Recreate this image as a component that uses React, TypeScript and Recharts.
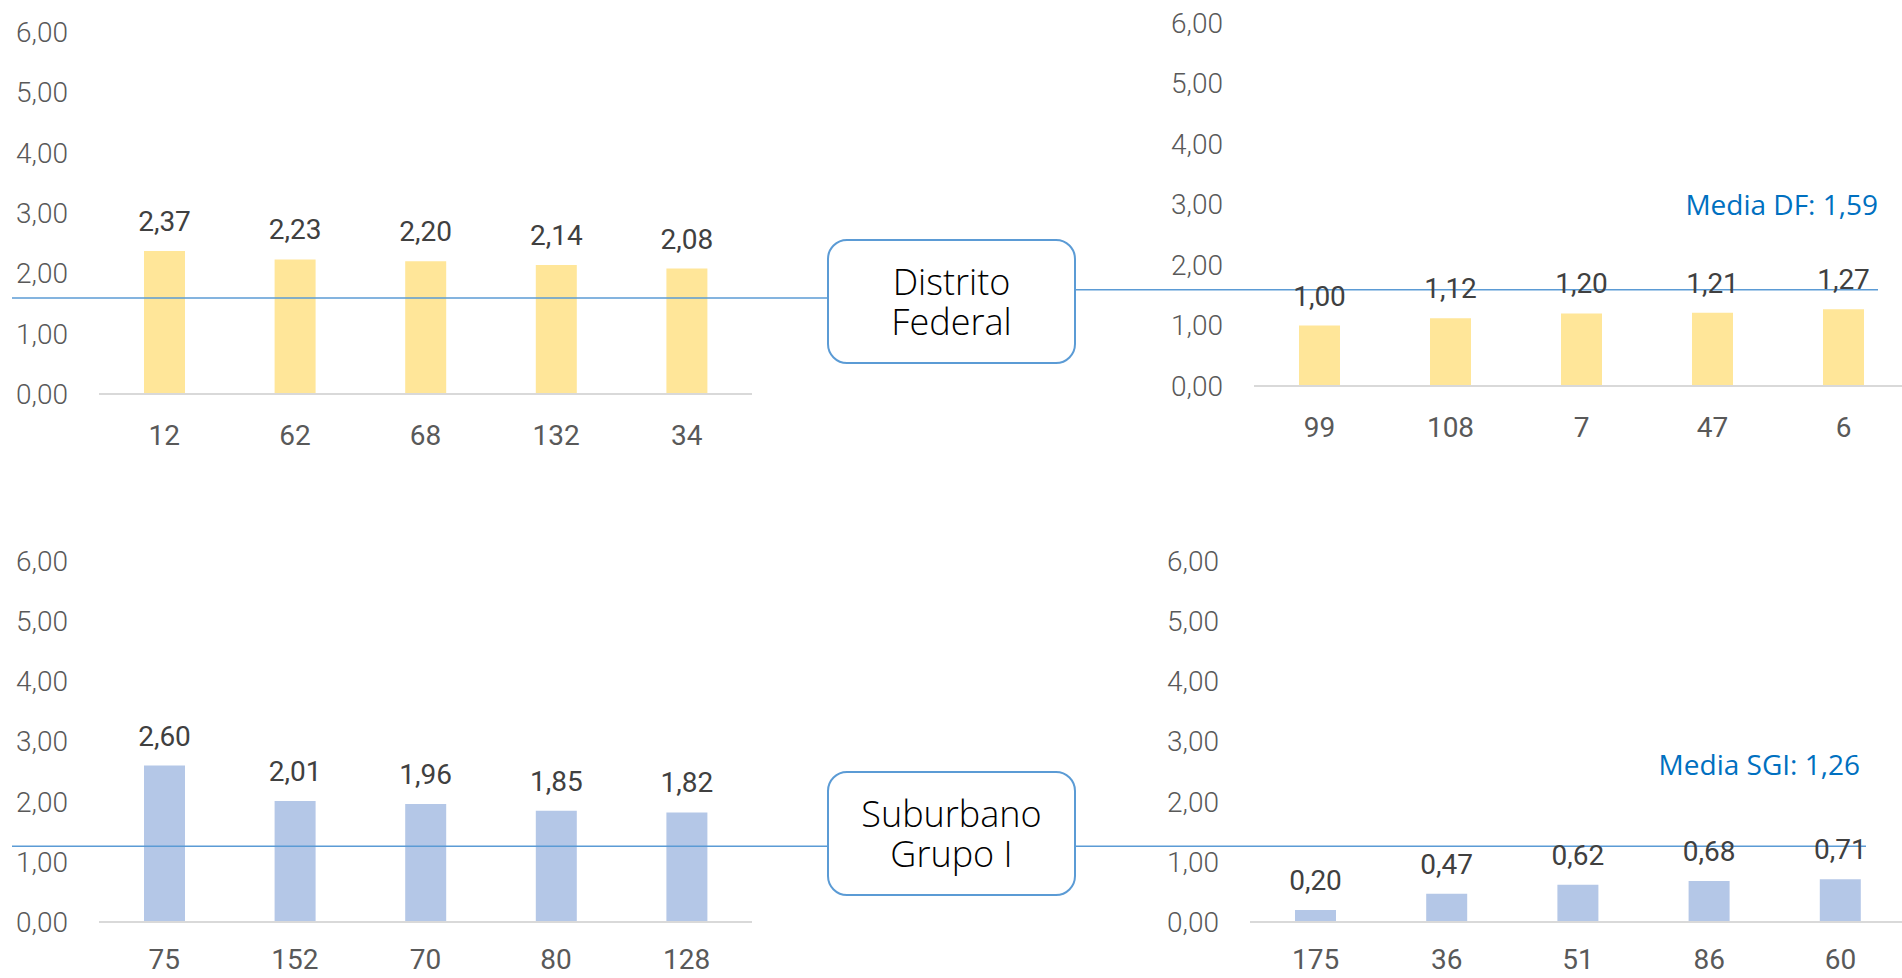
import { BarChart, Bar, XAxis, YAxis, ReferenceLine, LabelList } from "recharts";

const DF_HIGH_CATS = ["12", "62", "68", "132", "34"];
const DF_HIGH_VALUES = [2.37, 2.23, 2.2, 2.14, 2.08];
const DF_LOW_CATS = ["99", "108", "7", "47", "6"];
const DF_LOW_VALUES = [1.0, 1.12, 1.2, 1.21, 1.27];
const SGI_HIGH_CATS = ["75", "152", "70", "80", "128"];
const SGI_HIGH_VALUES = [2.6, 2.01, 1.96, 1.85, 1.82];
const SGI_LOW_CATS = ["175", "36", "51", "86", "60"];
const SGI_LOW_VALUES = [0.2, 0.47, 0.62, 0.68, 0.71];
const Y_TICKS = [0, 1, 2, 3, 4, 5, 6];
const MEDIA_DF = 1.59;
const MEDIA_SGI = 1.26;

const YELLOW = "#FFE699";
const BLUE = "#B4C7E7";
const LINE = "#5B9BD5";

const fmt = (v: number) => v.toFixed(2).replace(".", ",");

type PanelProps = {
  left: number;
  top: number;
  width: number;
  height: number;
  marginTop: number;
  marginRight: number;
  yAxisWidth: number;
  xAxisHeight: number;
  xTickMargin: number;
  cats: string[];
  values: number[];
  color: string;
  mean: number;
  extendLeft: number;
  extendRight: number;
};

function Panel(p: PanelProps) {
  const data = p.cats.map((c, i) => ({ cat: c, value: p.values[i] }));
  return (
    <div style={{ position: "absolute", left: p.left, top: p.top }}>
      <BarChart
        width={p.width}
        height={p.height}
        data={data}
        margin={{ top: p.marginTop, right: p.marginRight, bottom: 0, left: 0 }}
      >
        <XAxis
          dataKey="cat"
          height={p.xAxisHeight}
          axisLine={{ stroke: "#D9D9D9", strokeWidth: 2 }}
          tickLine={false}
          tickSize={0}
          tickMargin={p.xTickMargin}
          interval={0}
          tick={{ fill: "#595959", fontSize: 28, fontFamily: "Roboto" }}
        />
        <YAxis
          domain={[0, 6]}
          ticks={Y_TICKS}
          width={p.yAxisWidth}
          axisLine={false}
          tickLine={false}
          tickSize={0}
          tickMargin={31}
          tickFormatter={fmt}
          tick={{ fill: "#595959", fontSize: 28, fontFamily: "Roboto", fontWeight: 300 }}
        />
        <Bar dataKey="value" fill={p.color} barSize={41} isAnimationActive={false}>
          <LabelList
            dataKey="value"
            position="top"
            offset={20}
            formatter={(v: number) => fmt(v)}
            style={{ fill: "#404040", fontSize: 28, fontFamily: "Roboto" }}
          />
        </Bar>
        <ReferenceLine
          y={p.mean}
          shape={(s: any) => (
            <line
              x1={s.x1 - p.extendLeft}
              y1={s.y1}
              x2={s.x2 + p.extendRight}
              y2={s.y2}
              stroke={LINE}
              strokeWidth={1.5}
            />
          )}
        />
      </BarChart>
    </div>
  );
}

const boxStyle: React.CSSProperties = {
  position: "absolute",
  left: 827,
  width: 249,
  height: 125,
  boxSizing: "border-box",
  border: `2.5px solid ${LINE}`,
  borderRadius: 20,
  background: "#fff",
  display: "flex",
  alignItems: "center",
  justifyContent: "center",
  textAlign: "center",
  fontFamily: "'Open Sans', 'Noto Sans', sans-serif",
  fontWeight: 300,
  fontSize: 36,
  lineHeight: "40px",
  color: "#000",
};

const meanLabelStyle: React.CSSProperties = {
  position: "absolute",
  fontFamily: "'Open Sans', sans-serif",
  fontSize: 28,
  lineHeight: "28px",
  color: "#0070C0",
  whiteSpace: "nowrap",
};

export default function App() {
  return (
    <div
      style={{
        position: "fixed",
        left: 0,
        top: 0,
        width: 1902,
        height: 978,
        overflow: "hidden",
        background: "#fff",
      }}
    >
      <Panel
        left={0}
        top={0}
        width={830}
        height={470}
        marginTop={32}
        marginRight={78}
        yAxisWidth={99}
        xAxisHeight={76}
        xTickMargin={31}
        cats={DF_HIGH_CATS}
        values={DF_HIGH_VALUES}
        color={YELLOW}
        mean={MEDIA_DF}
        extendLeft={87}
        extendRight={76}
      />
      <Panel
        left={1076}
        top={0}
        width={840}
        height={470}
        marginTop={23}
        marginRight={7}
        yAxisWidth={178}
        xAxisHeight={84}
        xTickMargin={31}
        cats={DF_LOW_CATS}
        values={DF_LOW_VALUES}
        color={YELLOW}
        mean={MEDIA_DF}
        extendLeft={178}
        extendRight={-31}
      />
      <Panel
        left={0}
        top={500}
        width={830}
        height={478}
        marginTop={61}
        marginRight={78}
        yAxisWidth={99}
        xAxisHeight={56}
        xTickMargin={27}
        cats={SGI_HIGH_CATS}
        values={SGI_HIGH_VALUES}
        color={BLUE}
        mean={MEDIA_SGI}
        extendLeft={87}
        extendRight={76}
      />
      <Panel
        left={1076}
        top={500}
        width={840}
        height={478}
        marginTop={61}
        marginRight={10}
        yAxisWidth={174}
        xAxisHeight={56}
        xTickMargin={27}
        cats={SGI_LOW_CATS}
        values={SGI_LOW_VALUES}
        color={BLUE}
        mean={MEDIA_SGI}
        extendLeft={174}
        extendRight={-40}
      />

      <div style={{ ...boxStyle, top: 239 }}>
        Distrito
        <br />
        Federal
      </div>
      <div style={{ ...boxStyle, top: 771 }}>
        Suburbano
        <br />
        Grupo I
      </div>

      <div style={{ ...meanLabelStyle, right: 24, top: 190 }}>Media DF: {fmt(MEDIA_DF)}</div>
      <div style={{ ...meanLabelStyle, right: 42, top: 750 }}>Media SGI: {fmt(MEDIA_SGI)}</div>
    </div>
  );
}
